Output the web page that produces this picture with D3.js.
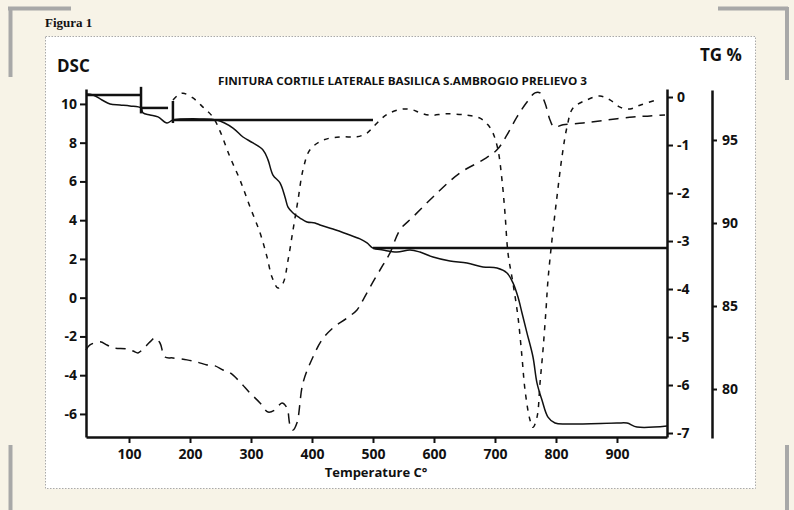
<!DOCTYPE html>
<html>
<head>
<meta charset="utf-8">
<script src="https://cdn.jsdelivr.net/npm/d3@7/dist/d3.min.js"></script>
<style>
  body { margin: 0; background: #f7f3e7; }
  svg { display: block; }
  text { font-family: "Open Sans", sans-serif; font-weight: bold; fill: #111; }
</style>
</head>
<body>
<svg id="chart" width="794" height="510"></svg>
<script>
// tick labels
const xTicks = [100, 200, 300, 400, 500, 600, 700, 800, 900];
const dscTicks = [-6, -4, -2, 0, 2, 4, 6, 8, 10];
const dtgTicks = [0, -1, -2, -3, -4, -5, -6, -7];
const tgTicks = [80, 85, 90, 95];

// TG curve (solid, right % axis)
const tgTemp = [29.5, 41, 55.7, 68.9, 85.2, 101.6, 119.7, 123, 134.4, 147.5, 162.3, 172, 216.4, 244,
  270.5, 286.9, 303.3, 319.7, 327.9, 336, 347.5, 355.7, 360.7, 368.9, 380.3, 391.8, 404.9, 413.1,
  434.4, 457.4, 478.7, 490.2, 500, 516.4, 539.3, 560.7, 577, 598.4, 626.2, 654.1, 680.3, 703.3,
  719.7, 729.5, 737.7, 744.3, 752.5, 762.3, 768.9, 777, 786.9, 798.4, 818, 900, 916.4, 932.8, 982];
const tgValue = [97.77, 97.71, 97.41, 97.17, 97.11, 97.05, 96.93, 96.63, 96.51, 96.39, 96.02, 96.2, 96.27, 96.2,
  95.72, 95.18, 94.82, 94.4, 93.8, 92.89, 92.41, 91.57, 90.96, 90.6, 90.3, 90.06, 90.0, 89.88,
  89.64, 89.34, 89.04, 88.8, 88.49, 88.37, 88.25, 88.37, 88.25, 87.95, 87.71, 87.59, 87.35, 87.29,
  86.99, 86.39, 85.54, 84.58, 83.37, 81.93, 80.36, 79.34, 78.31, 77.95, 77.89, 77.95, 77.95, 77.71, 77.77];

// DSC curve (long dashes, left axis)
const dscTemp = [29.5, 36, 52.5, 63.9, 73.8, 96.7, 106.6, 114.8, 123, 134.4, 142.6, 150.8, 159, 172.1,
  195.1, 211.5, 227.9, 241, 254.1, 265.6, 282, 298.4, 314.8, 327.9, 339.3, 350.8, 359, 363.9, 368.9,
  375.4, 385.2, 401.6, 416.4, 434.4, 457.4, 473.8, 483.6, 500, 516.4, 527.9, 544.3, 565.6, 598.4,
  642.6, 680.3, 703.3, 719.7, 736.1, 752.5, 765.6, 773.8, 782, 790.2, 796.7, 811.5, 844.3, 883.6,
  926.2, 954.1, 978.7];
const dscValue = [-2.70, -2.44, -2.28, -2.44, -2.59, -2.65, -2.75, -2.85, -2.65, -2.28, -2.08, -2.34, -3.06, -3.11,
  -3.21, -3.32, -3.47, -3.52, -3.73, -3.88, -4.35, -4.92, -5.43, -5.90, -5.79, -5.43, -5.69, -6.57, -6.83,
  -6.46, -4.40, -3.06, -2.18, -1.56, -1.05, -0.63, -0.12, 0.81, 1.69, 2.31, 3.50, 4.17, 5.20,
  6.44, 7.11, 7.63, 8.40, 9.33, 10.10, 10.57, 10.57, 10.05, 9.17, 8.81, 8.92, 9.02, 9.17,
  9.33, 9.38, 9.43];

// DTG curve (short dashes, inner right axis)
const dtgTemp = [172.1, 180.3, 188.5, 204.9, 221.3, 237.7, 249.2, 265.6, 282, 298.4, 314.8, 326.2, 334.4,
  344.3, 352.5, 360.7, 368.9, 377, 385.2, 396.7, 418, 445.9, 473.8, 490.2, 500, 514.8, 527.9, 549.2,
  565.6, 577, 593.4, 621.3, 654.1, 675.4, 688.5, 696.7, 704.9, 711.5, 716.4, 721.3, 729.5, 737.7,
  744.3, 749.2, 757.4, 762.3, 768.9, 773.8, 778.7, 783.6, 786.9, 793.4, 801.6, 809.8, 818, 827.9,
  850.8, 872.1, 888.5, 904.9, 921.3, 937.7, 965.6];
const dtgValue = [-0.06, 0.04, 0.08, -0.02, -0.21, -0.42, -0.71, -1.25, -1.73, -2.29, -2.83, -3.33, -3.75,
  -3.98, -3.88, -3.40, -2.77, -2.15, -1.52, -1.10, -0.90, -0.83, -0.83, -0.75, -0.63, -0.44, -0.33, -0.25,
  -0.27, -0.33, -0.38, -0.35, -0.38, -0.44, -0.58, -0.75, -1.10, -1.73, -2.42, -3.25, -3.88, -4.58,
  -5.42, -6.10, -6.73, -6.88, -6.67, -5.96, -5.27, -4.44, -3.81, -2.98, -2.08, -1.25, -0.63, -0.23,
  -0.06, 0.02, -0.06, -0.21, -0.25, -0.17, -0.06];

// TG step markers: horizontal [t1, t2, tg] and vertical [t, tg1, tg2]
const stepH = [[29.5, 119.7, 97.71], [119.7, 164, 96.93], [172, 500, 96.2], [500, 982, 88.49]];
const stepV = [[119.7, 98.2, 96.6], [172, 97.35, 96.02]];

const svg = d3.select('#chart');
const ink = '#111';
const gray = '#a8a8a8';

// page decoration
svg.append('rect').attr('width', 794).attr('height', 510).attr('fill', '#f7f3e7');
const brackets = [[8, 8.5, 71, 8.5], [10.5, 7, 10.5, 77], [718, 8.5, 788, 8.5], [787, 7, 787, 80],
  [10.5, 445, 10.5, 510], [787, 445, 787, 510]];
svg.selectAll('line.br').data(brackets).enter().append('line')
  .attr('x1', d => d[0]).attr('y1', d => d[1]).attr('x2', d => d[2]).attr('y2', d => d[3])
  .attr('stroke', gray).attr('stroke-width', 4);

svg.append('text').attr('x', 45).attr('y', 27)
  .style('font-family', '"Liberation Serif", serif').style('font-size', '13px')
  .text('Figura 1');

svg.append('rect').attr('x', 45.5).attr('y', 36.5).attr('width', 710).attr('height', 452)
  .attr('fill', '#fff').attr('stroke', '#aaa').attr('stroke-width', 1).attr('stroke-dasharray', '1.5,1.5');

// scales
const x = d3.scaleLinear().domain([29.5, 982]).range([86, 667]);
const yDsc = d3.scaleLinear().domain([-7.19, 10.77]).range([437, 89]);
const yDtg = d3.scaleLinear().domain([-7.083, 0.167]).range([437, 89]);
const yTg = d3.scaleLinear().domain([77.05, 98.01]).range([438, 90]);

const plain = d => String(d); // keep hyphen minus as in the original

function styleAxis(g) {
  g.select('.domain').attr('stroke', ink).attr('stroke-width', 2.5);
  g.selectAll('.tick line').attr('stroke', ink).attr('stroke-width', 2);
  g.selectAll('.tick text').style('font-size', '14px').attr('fill', ink);
}

svg.append('g').attr('transform', 'translate(0,437)')
  .call(d3.axisBottom(x).tickValues(xTicks).tickFormat(plain).tickSize(6).tickSizeOuter(0).tickPadding(6))
  .call(styleAxis);
svg.append('g').attr('transform', 'translate(86,0)')
  .call(d3.axisLeft(yDsc).tickValues(dscTicks).tickFormat(plain).tickSize(6).tickSizeOuter(0).tickPadding(3))
  .call(styleAxis);
svg.append('g').attr('transform', 'translate(667,0)')
  .call(d3.axisRight(yDtg).tickValues(dtgTicks).tickFormat(plain).tickSize(6).tickSizeOuter(0).tickPadding(4))
  .call(styleAxis);
svg.append('g').attr('transform', 'translate(712,0)')
  .call(d3.axisRight(yTg).tickValues(tgTicks).tickFormat(plain).tickSize(5).tickSizeOuter(0).tickPadding(5))
  .call(styleAxis);

// labels
svg.append('text').attr('x', 57).attr('y', 72).style('font-size', '17px').text('DSC');
svg.append('text').attr('x', 700).attr('y', 61).style('font-size', '17px').text('TG %');
svg.append('text').attr('x', 218).attr('y', 85).style('font-size', '10.5px')
  .attr('textLength', 369).attr('lengthAdjust', 'spacingAndGlyphs')
  .text('FINITURA CORTILE LATERALE BASILICA S.AMBROGIO PRELIEVO 3');
svg.append('text').attr('x', 376).attr('y', 477).attr('text-anchor', 'middle')
  .style('font-size', '13px').text('Temperature C°');

// step markers
const steps = svg.append('g').attr('stroke', ink).attr('stroke-width', 2.5);
steps.selectAll('line.h').data(stepH).enter().append('line')
  .attr('x1', d => x(d[0])).attr('x2', d => x(d[1]))
  .attr('y1', d => yTg(d[2])).attr('y2', d => yTg(d[2]));
steps.selectAll('line.v').data(stepV).enter().append('line')
  .attr('x1', d => x(d[0])).attr('x2', d => x(d[0]))
  .attr('y1', d => yTg(d[1])).attr('y2', d => yTg(d[2]));

// curves
function drawCurve(temps, vals, yScale, dash) {
  const pts = temps.map((t, i) => [t, vals[i]]);
  const line = d3.line().x(d => x(d[0])).y(d => yScale(d[1])).curve(d3.curveCatmullRom.alpha(0.5));
  svg.append('path').datum(pts).attr('d', line)
    .attr('fill', 'none').attr('stroke', ink).attr('stroke-width', 1.5)
    .attr('stroke-dasharray', dash);
}
drawCurve(tgTemp, tgValue, yTg, null);
drawCurve(dscTemp, dscValue, yDsc, '10,7');
drawCurve(dtgTemp, dtgValue, yDtg, '5,6');
</script>
</body>
</html>
